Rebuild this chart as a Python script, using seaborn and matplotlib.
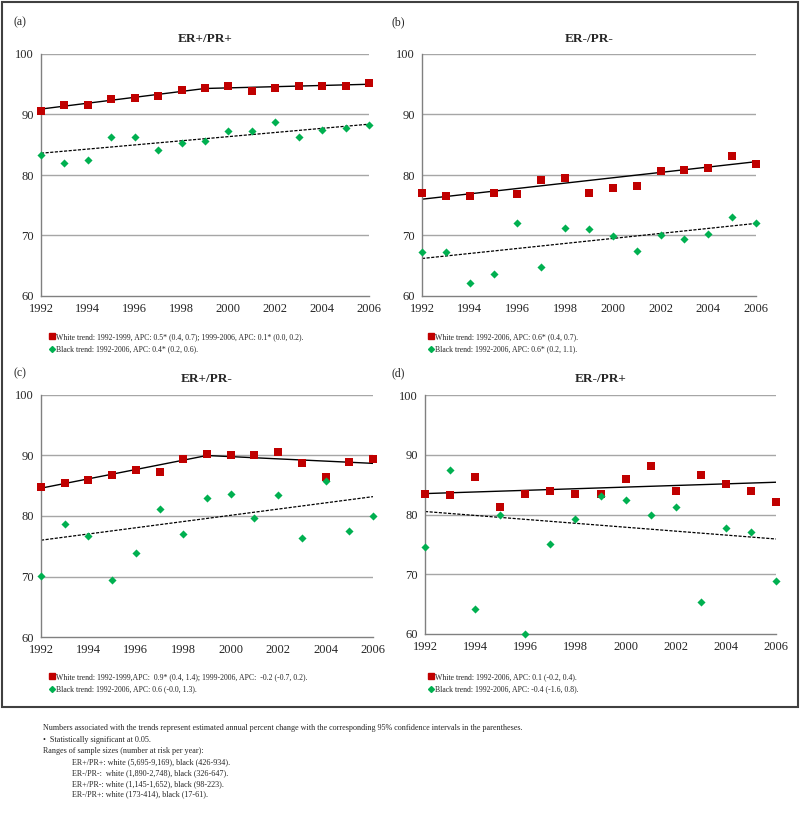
import matplotlib
matplotlib.use("Agg")
import matplotlib.pyplot as plt
import seaborn as sns
import pandas as pd
from matplotlib.lines import Line2D
from matplotlib.patches import Rectangle

YEARS = list(range(1992, 2007))

# ---- panel (a) ER+/PR+ -------------------------------------------------------
A_WHITE = [90.6, 91.5, 91.5, 92.6, 92.8, 93.1, 94.0, 94.3, 94.7, 93.9, 94.4, 94.7, 94.7, 94.7, 95.2]
A_BLACK = [83.3, 82.0, 82.5, 86.2, 86.2, 84.2, 85.3, 85.6, 87.2, 87.2, 88.7, 86.2, 87.4, 87.7, 88.2]
A_WHITE_KNOTS = ([1992, 1999, 2006], [90.9, 94.3, 95.0])
A_BLACK_KNOTS = ([1992, 2006], [83.6, 88.4])

# ---- panel (b) ER-/PR- -------------------------------------------------------
B_WHITE = [77.1, 76.5, 76.6, 77.1, 76.9, 79.2, 79.5, 77.1, 77.9, 78.2, 80.7, 80.9, 81.2, 83.2, 81.8]
B_BLACK = [67.3, 67.3, 62.2, 63.6, 72.1, 64.8, 71.2, 71.1, 69.9, 67.5, 70.1, 69.4, 70.2, 73.1, 72.1]
B_WHITE_KNOTS = ([1992, 2006], [76.0, 82.2])
B_BLACK_KNOTS = ([1992, 2006], [66.2, 72.0])

# ---- panel (c) ER+/PR- -------------------------------------------------------
C_WHITE = [84.8, 85.5, 86.0, 86.7, 87.6, 87.2, 89.4, 90.2, 90.0, 90.0, 90.6, 88.7, 86.4, 89.0, 89.5]
C_BLACK = [70.1, 78.7, 76.7, 69.5, 73.9, 81.2, 77.1, 83.0, 83.7, 79.7, 83.4, 76.4, 85.8, 77.6, 80.0]
C_WHITE_KNOTS = ([1992, 1999, 2006], [84.6, 90.0, 88.7])
C_BLACK_KNOTS = ([1992, 2006], [76.0, 83.2])

# ---- panel (d) ER-/PR+ -------------------------------------------------------
D_WHITE = [83.4, 83.2, 86.3, 81.3, 83.4, 84.0, 83.5, 83.5, 85.9, 88.2, 83.9, 86.6, 85.1, 83.9, 82.1]
D_BLACK = [74.5, 87.5, 64.2, 79.9, 60.0, 75.1, 79.3, 83.1, 82.4, 79.9, 81.2, 65.4, 77.7, 77.1, 68.9]
D_WHITE_KNOTS = ([1992, 2006], [83.5, 85.4])
D_BLACK_KNOTS = ([1992, 2006], [80.5, 75.9])

TITLES = ["ER+/PR+", "ER-/PR-", "ER+/PR-", "ER-/PR+"]
TAGS = ["(a)", "(b)", "(c)", "(d)"]
WHITE_LABELS = [
    "White trend: 1992-1999, APC: 0.5* (0.4, 0.7); 1999-2006, APC: 0.1* (0.0, 0.2).",
    "White trend: 1992-2006, APC: 0.6* (0.4, 0.7).",
    "White trend: 1992-1999,APC:  0.9* (0.4, 1.4); 1999-2006, APC:  -0.2 (-0.7, 0.2).",
    "White trend: 1992-2006, APC: 0.1 (-0.2, 0.4).",
]
BLACK_LABELS = [
    "Black trend: 1992-2006, APC: 0.4* (0.2, 0.6).",
    "Black trend: 1992-2006, APC: 0.6* (0.2, 1.1).",
    "Black trend: 1992-2006, APC: 0.6 (-0.0, 1.3).",
    "Black trend: 1992-2006, APC: -0.4 (-1.6, 0.8).",
]
FOOTNOTES = [
    "Numbers associated with the trends represent estimated annual percent change with the corresponding 95% confidence intervals in the parentheses.",
    "\u2022  Statistically significant at 0.05.",
    "Ranges of sample sizes (number at risk per year):",
]
SAMPLE_SIZES = [
    "ER+/PR+: white (5,695-9,169), black (426-934).",
    "ER-/PR-:  white (1,890-2,748), black (326-647).",
    "ER+/PR-: white (1,145-1,652), black (98-223).",
    "ER-/PR+: white (173-414), black (17-61).",
]

RED = "#C00000"
GREEN = "#00B050"

sns.set_style("white")
plt.rcParams["font.family"] = ["Liberation Serif", "DejaVu Serif"]

W, H = 800, 817
fig = plt.figure(figsize=(W / 100, H / 100), dpi=100)


def px_axes(left, right, top, bottom):
    return fig.add_axes([left / W, 1 - bottom / H, (right - left) / W, (bottom - top) / H])


# pixel boxes of each plot area: left, right, top, bottom
BOXES = [(41, 369, 54, 296), (422, 756, 54, 296), (41, 373, 395, 637), (425, 776, 395, 634)]
TAG_POS = [(13, 22), (392, 22), (13, 373), (392, 373)]
LEG_POS = [(50, 333), (429, 333), (50, 673), (429, 673)]

panels = [
    (A_WHITE, A_BLACK, A_WHITE_KNOTS, A_BLACK_KNOTS),
    (B_WHITE, B_BLACK, B_WHITE_KNOTS, B_BLACK_KNOTS),
    (C_WHITE, C_BLACK, C_WHITE_KNOTS, C_BLACK_KNOTS),
    (D_WHITE, D_BLACK, D_WHITE_KNOTS, D_BLACK_KNOTS),
]

for i, (white, black, wk, bk) in enumerate(panels):
    ax = px_axes(*BOXES[i])
    pts = pd.DataFrame({"year": YEARS, "white": white, "black": black})

    for y in [70, 80, 90, 100]:
        ax.axhline(y, color="#A6A6A6", lw=1.0, zorder=0)

    sns.lineplot(x=wk[0], y=wk[1], ax=ax, color="black", lw=1.0, zorder=2)
    sns.lineplot(x=bk[0], y=bk[1], ax=ax, color="black", lw=0.9, zorder=2,
                 linestyle=(0, (2.5, 1.2)))
    sns.scatterplot(data=pts, x="year", y="white", ax=ax, marker="s", s=26,
                    color=RED, edgecolor=RED, linewidth=0, zorder=3, clip_on=False)
    sns.scatterplot(data=pts, x="year", y="black", ax=ax, marker="D", s=17,
                    color=GREEN, edgecolor=GREEN, linewidth=0, zorder=3, clip_on=False)

    ax.set_xlim(1992, 2006)
    ax.set_ylim(60, 100)
    ax.set_xticks(range(1992, 2007, 2))
    ax.set_xticks(YEARS, minor=True)
    ax.set_yticks([60, 70, 80, 90, 100])
    ax.set_xlabel("")
    ax.set_ylabel("")
    for side in ["top", "right"]:
        ax.spines[side].set_visible(False)
    for side in ["left", "bottom"]:
        ax.spines[side].set_color("#808080")
        ax.spines[side].set_linewidth(1.0)
    ax.tick_params(axis="both", which="both", direction="out", color="#808080",
                   labelsize=9, pad=2)
    ax.tick_params(axis="both", which="major", length=3)
    ax.tick_params(axis="x", which="minor", length=3)
    ax.set_title(TITLES[i], fontsize=9.5, fontweight="bold", pad=9)

    fig.text(TAG_POS[i][0] / W, 1 - TAG_POS[i][1] / H, TAGS[i], fontsize=8.5,
             va="center", ha="left")

    handles = [
        Line2D([], [], marker="s", color=RED, ls="none", markersize=4.2),
        Line2D([], [], marker="D", color=GREEN, ls="none", markersize=3.0),
    ]
    fig.legend(handles, [WHITE_LABELS[i], BLACK_LABELS[i]], loc="upper left",
               bbox_to_anchor=(LEG_POS[i][0] / W, 1 - LEG_POS[i][1] / H),
               frameon=False, fontsize=5.6, handlelength=0.6, handletextpad=0.2,
               labelspacing=0.55, borderaxespad=0, borderpad=0)

# outer frame around the four panels
fig.add_artist(Rectangle((1.5 / W, 1 - 707 / H), 796 / W, 705.5 / H,
                         transform=fig.transFigure, fill=False,
                         edgecolor="#404040", lw=1.5))

y = 728
for line in FOOTNOTES:
    fig.text(43 / W, 1 - y / H, line, fontsize=5.9, va="center", ha="left")
    y += 11.5
for line in SAMPLE_SIZES:
    fig.text(72 / W, 1 - y / H, line, fontsize=5.9, va="center", ha="left")
    y += 10.7

fig.savefig("out.png", dpi=100)
